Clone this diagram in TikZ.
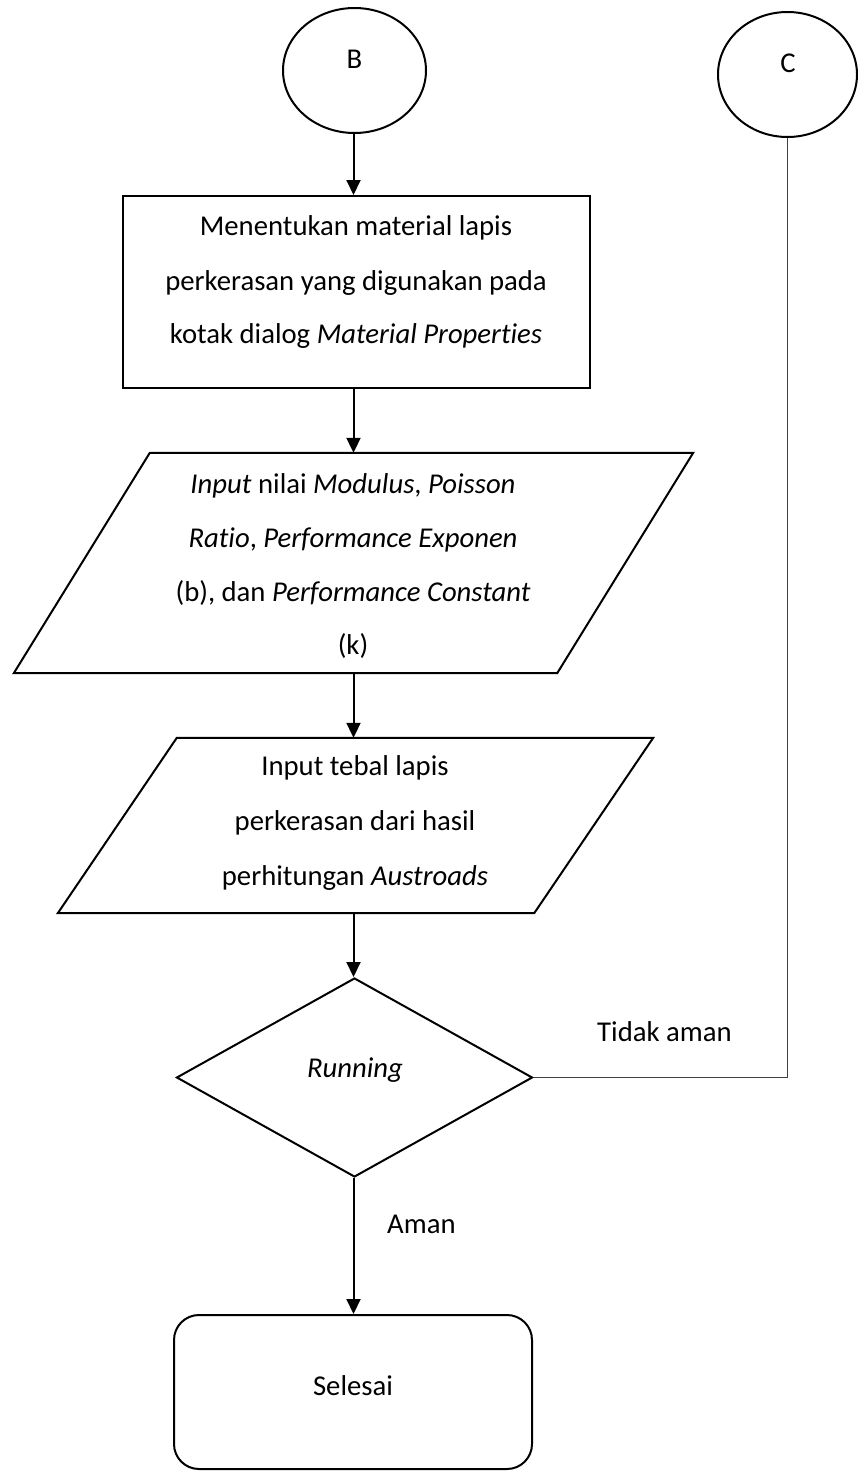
\documentclass[tikz,border=0pt]{standalone}
\usepackage{fontspec}
\setmainfont{Carlito}[Ligatures=NoCommon]
\usetikzlibrary{arrows.meta,shapes.geometric,calc}
\begin{document}
\begin{tikzpicture}[x=1pt,y=-1pt,
  shp/.style={draw=black,line width=2pt},
  txt/.style={anchor=base,inner sep=0pt,font=\fontsize{28.7}{34}\selectfont},
  arr/.style={line width=2pt,-{Triangle[length=15pt,width=14pt]}},
  thinline/.style={line width=1.3pt,draw=black!75}]
\path[fill=white] (0,0) rectangle (858,1472);
\useasboundingbox (0,0) rectangle (858,1472);
\coordinate (ax) at (353.5,0);
% start connectors
\node[shp,ellipse,minimum width=143pt,minimum height=125pt,inner sep=0pt] (B) at (354.5,70.5) {};
\node[txt] (Bt) at (354.5,68) {B};
\node[shp,ellipse,minimum width=139pt,minimum height=125pt,inner sep=0pt] (C) at (787.5,74.5) {};
\node[txt] (Ct) at (788,73) {C};
% process box
\node[shp,rectangle,minimum width=467pt,minimum height=192pt,inner sep=0pt] (R) at (356.5,292) {};
\node[txt] (R1) at (356,235) {Menentukan material lapis};
\node[txt] (R2) at (356,290) {perkerasan yang digunakan pada};
\node[txt] (R3) at (356,343) {kotak dialog \textit{Material Properties}};
% input 1
\node[minimum width=679pt,minimum height=220pt,inner sep=0pt] (P1) at (353.5,563) {};
\draw[shp] ($(P1.north west)+(136,0)$) -- (P1.north east) -- ($(P1.south east)+(-136,0)$) -- (P1.south west) -- cycle;
\node[txt] (P1a) at (353,493) {\textit{Input} nilai \textit{Modulus}, \textit{Poisson}};
\node[txt] (P1b) at (353,547) {\textit{Ratio}, \textit{Performance Exponen}};
\node[txt] (P1c) at (353,601) {(b), dan \textit{Performance Constant}};
\node[txt] (P1d) at (353,654) {(k)};
% input 2
\node[minimum width=595pt,minimum height=175pt,inner sep=0pt] (P2) at (355.5,825.5) {};
\draw[shp] ($(P2.north west)+(119,0)$) -- (P2.north east) -- ($(P2.south east)+(-119,0)$) -- (P2.south west) -- cycle;
\node[txt] (P2a) at (355,775) {Input tebal lapis};
\node[txt] (P2b) at (355,830) {perkerasan dari hasil};
\node[txt] (P2c) at (355,885) {perhitungan \textit{Austroads}};
% decision
\node[shp,diamond,minimum width=356pt,minimum height=199pt,inner sep=0pt] (D) at (354.5,1077.5) {};
\node[txt] (Dt) at (355,1077) {\textit{Running}};
% end
\node[shp,rectangle,rounded corners=25pt,minimum width=358pt,minimum height=154pt,inner sep=0pt] (S) at (353,1392) {};
\node[txt] (St) at (353,1395) {Selesai};
% labels
\node[txt,anchor=base west] (L1) at (597,1041) {Tidak aman};
\node[txt,anchor=base west] (L2) at (387,1233) {Aman};
% connectors
\draw[arr] (B.south -| ax) -- (R.north -| ax);
\draw[arr] (R.south -| ax) -- (P1.north -| ax);
\draw[arr] (P1.south -| ax) -- (P2.north -| ax);
\draw[arr] (P2.south -| ax) -- (D.north -| ax);
\draw[arr] (D.south -| ax) -- (S.north -| ax);
\draw[thinline] (C.south) |- (D.east);
\end{tikzpicture}
\end{document}
